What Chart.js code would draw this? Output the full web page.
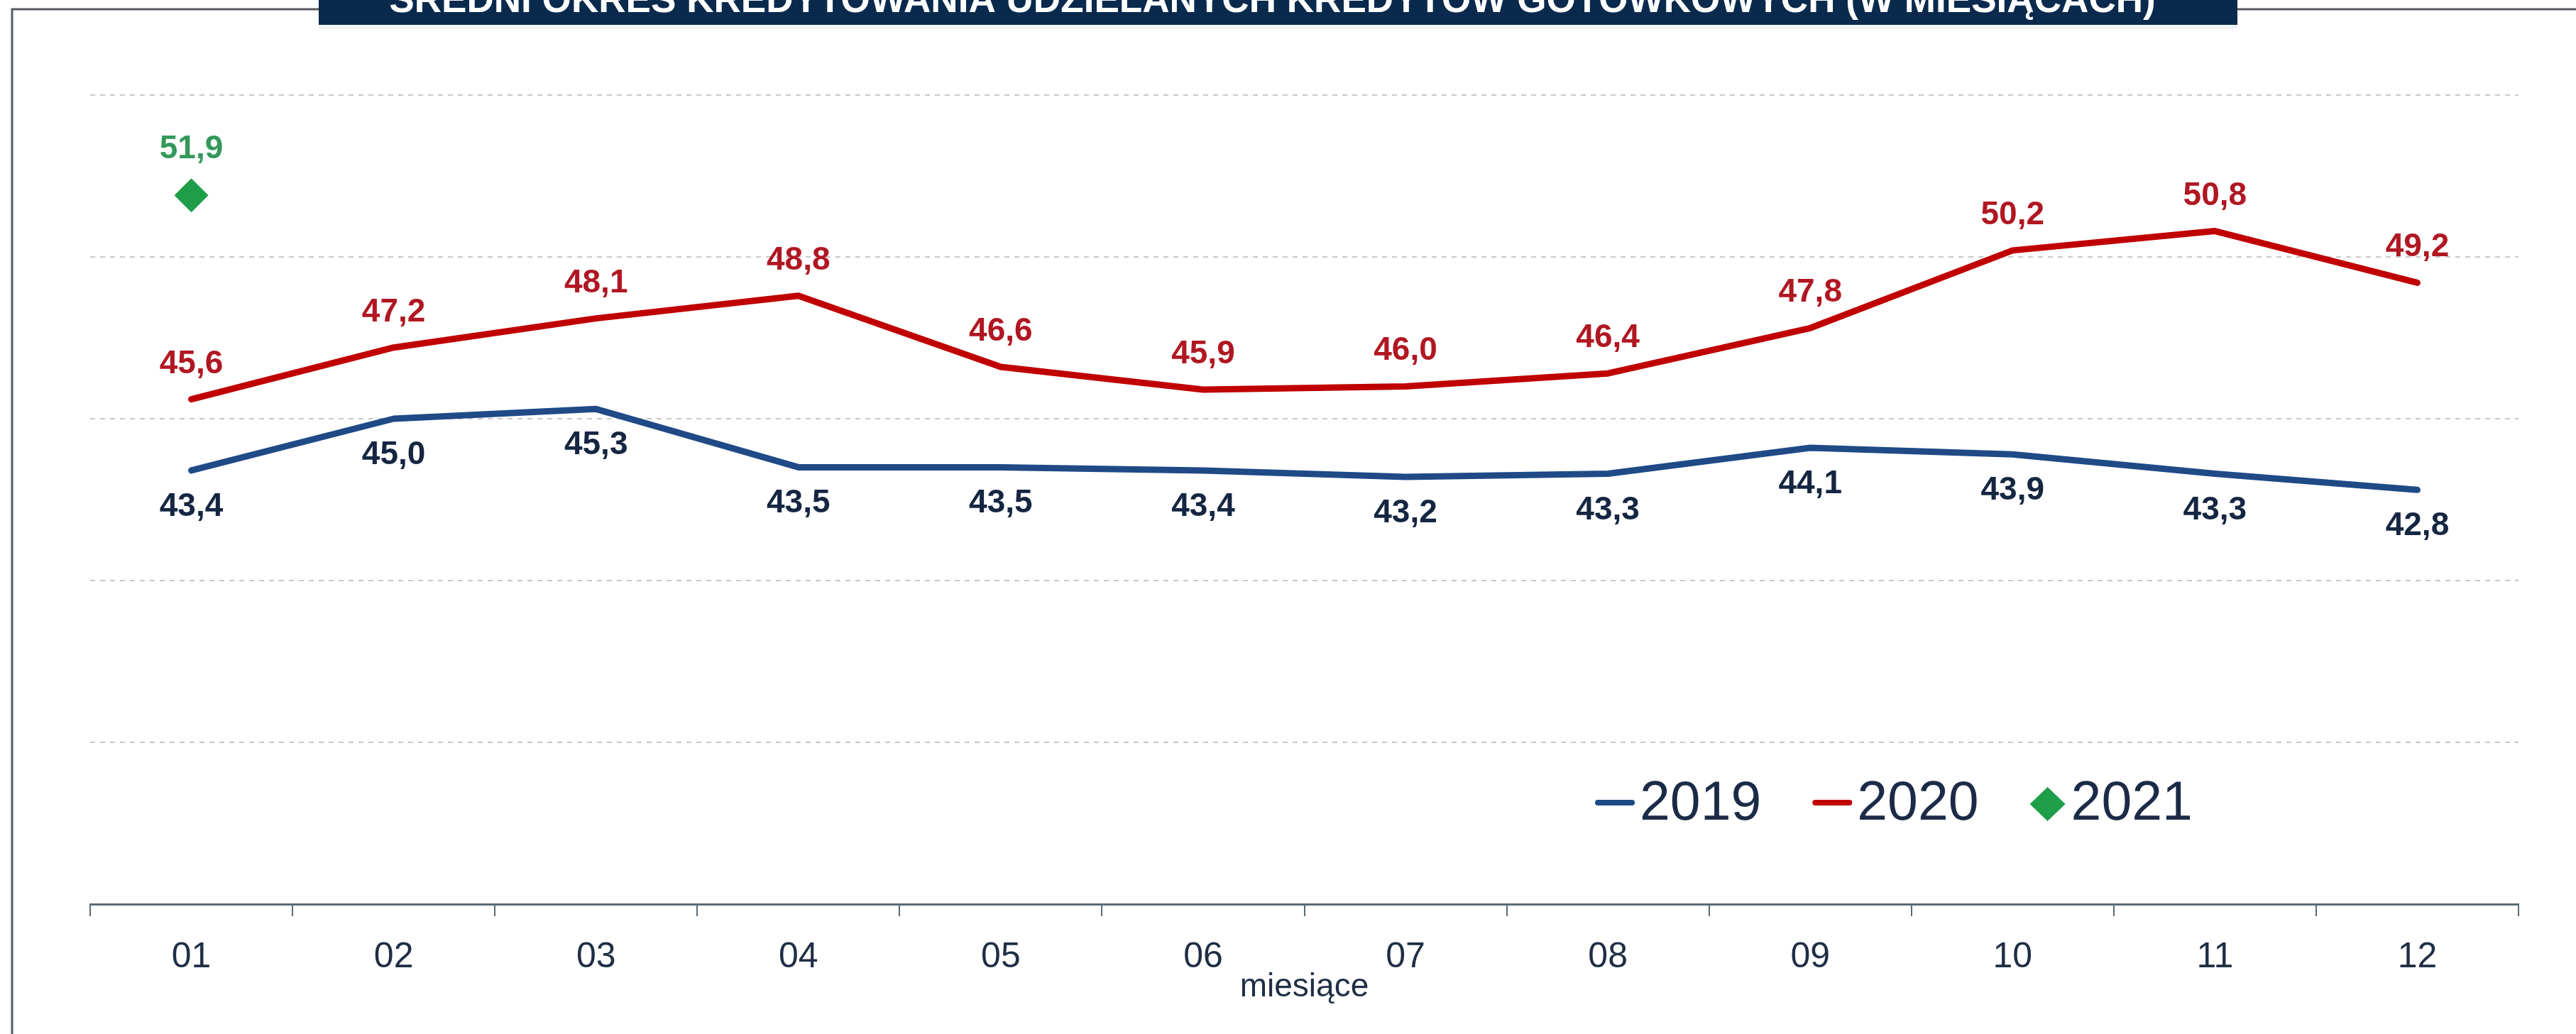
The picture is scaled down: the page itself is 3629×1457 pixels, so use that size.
<!DOCTYPE html>
<html>
<head>
<meta charset="utf-8">
<title>Średni okres kredytowania</title>
<script src="https://cdn.jsdelivr.net/npm/chart.js@4.4.1/dist/chart.umd.min.js"></script>
<style>
    html, body { margin: 0; padding: 0; background: #ffffff; }
    canvas { display: block; }
</style>
</head>
<body>
<canvas id="lineChart" width="3629" height="1457"></canvas>
<script>
// Values
const months = ['01', '02', '03', '04', '05', '06', '07', '08', '09', '10', '11', '12'];
const values2019 = [43.4, 45.0, 45.3, 43.5, 43.5, 43.4, 43.2, 43.3, 44.1, 43.9, 43.3, 42.8];
const values2020 = [45.6, 47.2, 48.1, 48.8, 46.6, 45.9, 46.0, 46.4, 47.8, 50.2, 50.8, 49.2];
const values2021 = [51.9, null, null, null, null, null, null, null, null, null, null, null];
const seriesNames = ['2019', '2020', '2021'];
const yTicks = [30, 35, 40, 45, 50, 55];

const chartTitle = 'ŚREDNI OKRES KREDYTOWANIA UDZIELANYCH KREDYTÓW GOTÓWKOWYCH (W MIESIĄCACH)';
const axisTitle = 'miesiące';

const FONT = '"Liberation Sans", Arial, sans-serif';

// label colour and vertical offset (px from point to label centre) per series
const labelStyles = [
    { color: '#152642', dy: 48 },
    { color: '#b01722', dy: -53 },
    { color: '#34985a', dy: -68 }
];

function formatValue(v) {
    return v.toFixed(1).replace('.', ',');
}

// Frame, top banner with the (cut off) title
const framePlugin = {
    id: 'frame',
    beforeDraw(chart) {
        const ctx = chart.ctx;
        ctx.save();
        ctx.fillStyle = '#ffffff';
        ctx.fillRect(0, 0, chart.width, chart.height);

        // outer frame lines
        ctx.strokeStyle = '#555b60';
        ctx.lineWidth = 3;
        ctx.beginPath();
        ctx.moveTo(17, chart.height);
        ctx.lineTo(17, 13);
        ctx.lineTo(chart.width, 13);
        ctx.stroke();

        // banner
        const bx = 449, bw = 3152 - 449, bh = 35;
        ctx.fillStyle = '#eef4fa';
        ctx.fillRect(bx, bh, bw, 6);
        ctx.fillStyle = '#0a2a4d';
        ctx.fillRect(bx, 0, bw, bh);

        ctx.fillStyle = '#ffffff';
        ctx.textAlign = 'center';
        ctx.textBaseline = 'alphabetic';
        let size = 58;
        ctx.font = 'bold ' + size + 'px ' + FONT;
        const w = ctx.measureText(chartTitle).width;
        size = size * 2490 / w;
        ctx.font = 'bold ' + size.toFixed(1) + 'px ' + FONT;
        ctx.fillText(chartTitle, bx + bw / 2 - 8, 17);
        ctx.restore();
    }
};

// Value labels next to each point
const valueLabelPlugin = {
    id: 'valueLabels',
    afterDatasetsDraw(chart) {
        const ctx = chart.ctx;
        ctx.save();
        ctx.font = 'bold 46px ' + FONT;
        ctx.textAlign = 'center';
        ctx.textBaseline = 'alphabetic';
        chart.data.datasets.forEach(function (ds, i) {
            const meta = chart.getDatasetMeta(i);
            const style = labelStyles[i];
            ctx.fillStyle = style.color;
            meta.data.forEach(function (pt, j) {
                const v = ds.data[j];
                if (v === null || v === undefined) return;
                ctx.fillText(formatValue(v), pt.x, pt.y + style.dy + 16);
            });
        });
        ctx.restore();
    }
};

// Legend inside the plot area (bottom right) and the x axis caption
const insideLegendPlugin = {
    id: 'insideLegend',
    afterDraw(chart) {
        const ctx = chart.ctx;
        const area = chart.chartArea;
        let x = area.left + 2120;
        const y = area.top + 997;
        ctx.save();
        ctx.font = '77px ' + FONT;
        ctx.textBaseline = 'alphabetic';
        ctx.textAlign = 'left';
        chart.data.datasets.forEach(function (ds) {
            if (ds.showLine === false) {
                ctx.fillStyle = ds.pointBackgroundColor;
                ctx.beginPath();
                ctx.moveTo(x, y + 2);
                ctx.lineTo(x + 25, y - 22);
                ctx.lineTo(x + 50, y + 2);
                ctx.lineTo(x + 25, y + 26);
                ctx.closePath();
                ctx.fill();
                x += 58;
            } else {
                ctx.strokeStyle = ds.borderColor;
                ctx.lineWidth = 8;
                ctx.lineCap = 'round';
                ctx.beginPath();
                ctx.moveTo(x + 4, y);
                ctx.lineTo(x + 52, y);
                ctx.stroke();
                x += 63;
            }
            ctx.fillStyle = '#1b2b47';
            ctx.fillText(ds.label, x, y + 24);
            x += ctx.measureText(ds.label).width + 72;
        });

        // axis caption under the month labels
        ctx.font = '46px ' + FONT;
        ctx.textAlign = 'center';
        ctx.fillStyle = '#1f2e45';
        ctx.fillText(axisTitle, (area.left + area.right) / 2, area.bottom + 130);
        ctx.restore();
    }
};

const ctx = document.getElementById('lineChart').getContext('2d');

new Chart(ctx, {
    type: 'line',
    data: {
        labels: months,
        datasets: [
            {
                label: seriesNames[0],
                data: values2019,
                borderColor: '#1f4a86',
                backgroundColor: '#1f4a86',
                borderWidth: 9,
                borderCapStyle: 'round',
                borderJoinStyle: 'round',
                pointRadius: 0,
                tension: 0
            },
            {
                label: seriesNames[1],
                data: values2020,
                borderColor: '#c00000',
                backgroundColor: '#c00000',
                borderWidth: 9,
                borderCapStyle: 'round',
                borderJoinStyle: 'round',
                pointRadius: 0,
                tension: 0
            },
            {
                label: seriesNames[2],
                data: values2021,
                showLine: false,
                pointStyle: 'rectRot',
                pointRadius: 24,
                pointBorderWidth: 0,
                pointBackgroundColor: '#1e9e48',
                pointBorderColor: '#1e9e48',
                borderColor: '#1e9e48',
                backgroundColor: '#1e9e48'
            }
        ]
    },
    options: {
        responsive: false,
        animation: false,
        devicePixelRatio: 1,
        layout: {
            padding: { left: 127, right: 81, top: 134, bottom: 50 }
        },
        plugins: {
            legend: { display: false },
            title: { display: false },
            tooltip: { enabled: false }
        },
        scales: {
            x: {
                offset: true,
                grid: {
                    offset: true,
                    drawOnChartArea: false,
                    drawTicks: true,
                    tickLength: 17,
                    color: '#5a6b75',
                    lineWidth: 2
                },
                border: { display: true, color: '#5a6b75', width: 3 },
                ticks: {
                    color: '#1f2e45',
                    font: { family: FONT, size: 50 },
                    padding: 28,
                    maxRotation: 0,
                    autoSkip: false
                }
            },
            y: {
                min: yTicks[0],
                max: yTicks[yTicks.length - 1],
                afterBuildTicks: function (axis) {
                    axis.ticks = yTicks.map(function (v) { return { value: v }; });
                },
                ticks: { display: false },
                grid: {
                    drawTicks: false,
                    lineWidth: 2,
                    color: function (c) {
                        return c.tick && c.tick.value === yTicks[0] ? 'rgba(0,0,0,0)' : '#c8c8c8';
                    }
                },
                border: { display: false, dash: [7, 7] }
            }
        }
    },
    plugins: [framePlugin, valueLabelPlugin, insideLegendPlugin]
});
</script>
</body>
</html>
